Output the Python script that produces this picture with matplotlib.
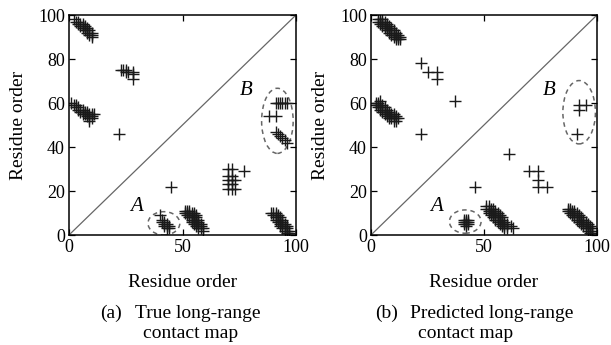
import matplotlib
matplotlib.use("Agg")
import matplotlib.pyplot as plt
from matplotlib.patches import Ellipse

plt.rcParams['font.family'] = ['Liberation Serif', 'DejaVu Serif']
plt.rcParams['mathtext.fontset'] = 'stix'

# ---------------- data: true long-range contacts (panel a) ----------------
true_band_tl = [(2, 98), (3, 97), (4, 97), (4, 96), (5, 96), (5, 95), (6, 95), (6, 94),
                (7, 94), (7, 93), (8, 93), (8, 92), (9, 92), (9, 91), (10, 91), (10, 90),
                (6, 96), (7, 95), (8, 94), (9, 93), (10, 92)]
true_band_ml = [(1, 60), (2, 59), (3, 59), (3, 58), (4, 58), (4, 57), (5, 57), (5, 56),
                (6, 57), (6, 56), (6, 55), (7, 56), (7, 55), (8, 56), (8, 55), (8, 54),
                (9, 55), (9, 54), (9, 53), (10, 55), (10, 54), (10, 53), (9, 52), (11, 55)]
true_scatter = [(23, 75), (24, 75), (25, 75), (25, 74), (26, 74), (28, 74), (28, 73),
                (28, 71), (22, 46), (45, 22)]
true_A = [(40, 9), (41, 7), (41, 6), (42, 6), (42, 5), (42, 4), (43, 5), (43, 4),
          (44, 4), (43, 3), (44, 3)]
true_band_bm = [(51, 11), (52, 11), (53, 11),
                (51, 10), (52, 10), (53, 10), (54, 10), (55, 10),
                (52, 9), (53, 9), (54, 9), (55, 9), (56, 9),
                (53, 8), (54, 8), (55, 8), (56, 8),
                (54, 7), (55, 7), (56, 7), (57, 7),
                (54, 6), (55, 6), (56, 6), (57, 6),
                (55, 5), (56, 5), (57, 5), (58, 5),
                (56, 4), (57, 4), (58, 4),
                (57, 3), (58, 3), (59, 3), (59, 2)]
true_grid = [(70, 30), (72, 30), (70, 27), (72, 27), (70, 25), (72, 25), (73, 25),
             (70, 23), (72, 23), (70, 21), (72, 21), (73, 21), (77, 29)]
true_B = [(91, 60), (92, 60), (93, 60), (94, 60), (95, 60), (96, 60),
          (88, 54), (91, 54),
          (91, 47), (92, 46), (93, 45), (94, 44), (95, 43), (96, 42)]
true_band_br = [(89, 10), (90, 10), (91, 10), (90, 9), (91, 9), (92, 9),
                (91, 8), (92, 8), (93, 8), (91, 7), (92, 7), (93, 7), (94, 7),
                (92, 6), (93, 6), (94, 6), (93, 5), (94, 5), (95, 5),
                (93, 4), (94, 4), (95, 4), (96, 4), (94, 3), (95, 3), (96, 3),
                (95, 2), (96, 2), (97, 2), (96, 1), (97, 1)]

# ---------------- data: predicted long-range contacts (panel b) ----------------
pred_band_tl = [(3, 98), (4, 98), (5, 98),
                (3, 97), (4, 97), (5, 97), (6, 97),
                (4, 96), (5, 96), (6, 96), (7, 96),
                (5, 95), (6, 95), (7, 95), (8, 95),
                (6, 94), (7, 94), (8, 94), (9, 94),
                (7, 93), (8, 93), (9, 93), (10, 93),
                (8, 92), (9, 92), (10, 92), (11, 92),
                (9, 91), (10, 91), (11, 91), (12, 91),
                (10, 90), (11, 90), (12, 90), (13, 90),
                (11, 89), (12, 89), (13, 89)]
pred_band_ml = [(4, 61), (2, 60), (3, 60),
                (2, 59), (3, 59), (4, 59), (5, 59),
                (3, 58), (4, 58), (5, 58), (6, 58),
                (4, 57), (5, 57), (6, 57), (7, 57),
                (5, 56), (6, 56), (7, 56), (8, 56),
                (6, 55), (7, 55), (8, 55), (9, 55), (10, 55),
                (7, 54), (8, 54), (9, 54), (10, 54), (11, 54),
                (8, 53), (9, 53), (10, 53), (11, 53), (12, 53),
                (10, 52), (11, 52)]
pred_scatter = [(22, 78), (25, 74), (29, 74), (29, 71), (37, 61), (22, 46),
                (46, 22), (61, 37)]
pred_A = [(41, 7), (42, 7), (43, 7), (41, 6), (42, 6), (43, 6), (41, 5), (42, 5),
          (43, 5), (42, 4)]
pred_band_bm = [(51, 13), (52, 13),
                (51, 12), (52, 12), (53, 12), (54, 12),
                (52, 11), (53, 11), (54, 11), (55, 11),
                (52, 10), (53, 10), (54, 10), (55, 10), (56, 10),
                (53, 9), (54, 9), (55, 9), (56, 9), (57, 9),
                (54, 8), (55, 8), (56, 8), (57, 8), (58, 8),
                (55, 7), (56, 7), (57, 7), (58, 7),
                (56, 6), (57, 6), (58, 6), (59, 6),
                (57, 5), (58, 5), (59, 5), (60, 5),
                (58, 4), (59, 4), (60, 4), (62, 4),
                (59, 3), (60, 3), (63, 3)]
pred_grid = [(70, 29), (74, 29), (74, 25), (74, 22), (78, 22)]
pred_B = [(92, 59), (95, 59), (92, 57), (91, 46)]
pred_band_br = [(87, 12), (88, 12),
                (87, 11), (88, 11), (89, 11), (90, 11),
                (88, 10), (89, 10), (90, 10), (91, 10),
                (89, 9), (90, 9), (91, 9), (92, 9),
                (90, 8), (91, 8), (92, 8), (93, 8),
                (91, 7), (92, 7), (93, 7), (94, 7),
                (92, 6), (93, 6), (94, 6), (95, 6),
                (93, 5), (94, 5), (95, 5), (96, 5),
                (94, 4), (95, 4), (96, 4), (97, 4),
                (95, 3), (96, 3), (97, 3), (98, 3),
                (96, 2), (97, 2), (98, 2), (97, 1), (98, 1)]

true_clusters = [true_band_tl, true_band_ml, true_scatter, true_A, true_band_bm,
                 true_grid, true_B, true_band_br]
pred_clusters = [pred_band_tl, pred_band_ml, pred_scatter, pred_A, pred_band_bm,
                 pred_grid, pred_B, pred_band_br]

x_ticks = [0, 50, 100]
y_ticks = [0, 20, 40, 60, 80, 100]

# ellipse annotations (center x, center y, width, height) in residue units
true_ellipses = [(41.8, 5.3, 14.0, 10.6), (91.8, 51.9, 13.9, 29.6)]
pred_ellipses = [(41.7, 6.1, 14.0, 10.6), (92.1, 55.8, 14.4, 28.8)]
true_letters = [("A", 29.7, 12.9), ("B", 78.0, 65.6)]
pred_letters = [("A", 29.1, 12.9), ("B", 78.8, 65.6)]

# ---------------- figure ----------------
W, H = 611, 345
fig = plt.figure(figsize=(W / 100, H / 100), dpi=100)

ax_boxes = [(69, 15, 227, 220), (371, 15, 226, 220)]
panels = [(true_clusters, true_ellipses, true_letters),
          (pred_clusters, pred_ellipses, pred_letters)]

FS = 14
TFS = 13
for (l, t, w, h), (clusters, ells, letters) in zip(ax_boxes, panels):
    ax = fig.add_axes([l / W, (H - t - h) / H, w / W, h / H])
    ax.plot([0, 100], [0, 100], color='#666666', lw=0.9)
    for cl in clusters:
        xs = [p[0] for p in cl]
        ys = [p[1] for p in cl]
        ax.plot(xs, ys, ls='none', marker='+', ms=8, mew=1.0, color='#1a1a1a')
    for cx, cy, ew, eh in ells:
        ax.add_patch(Ellipse((cx, cy), ew, eh, fill=False, ls=(0, (3, 2.5)),
                             edgecolor='#666666', lw=1.1))
    for s, lx, ly in letters:
        ax.text(lx, ly, s, fontsize=FS + 1, style='italic', ha='center', va='center')
    ax.set_xlim(0, 100)
    ax.set_ylim(0, 100)
    ax.set_xticks(x_ticks)
    ax.set_yticks(y_ticks)
    ax.tick_params(direction='in', top=True, right=True, length=4, width=0.9,
                   labelsize=TFS, pad=3)
    for sp in ax.spines.values():
        sp.set_linewidth(1.1)
    ax.set_xlabel("Residue order", fontsize=FS, labelpad=13)
    ax.set_ylabel("Residue order", fontsize=FS, labelpad=8)

# captions
def ftext(x, y, s):
    fig.text(x / W, 1 - y / H, s, fontsize=FS, ha='left', va='center')

ftext(100, 313, "(a)")
ftext(135, 313, "True long-range")
ftext(143, 334, "contact map")
ftext(375, 313, "(b)")
ftext(410, 313, "Predicted long-range")
ftext(418, 334, "contact map")

fig.savefig("out.png", dpi=100)
